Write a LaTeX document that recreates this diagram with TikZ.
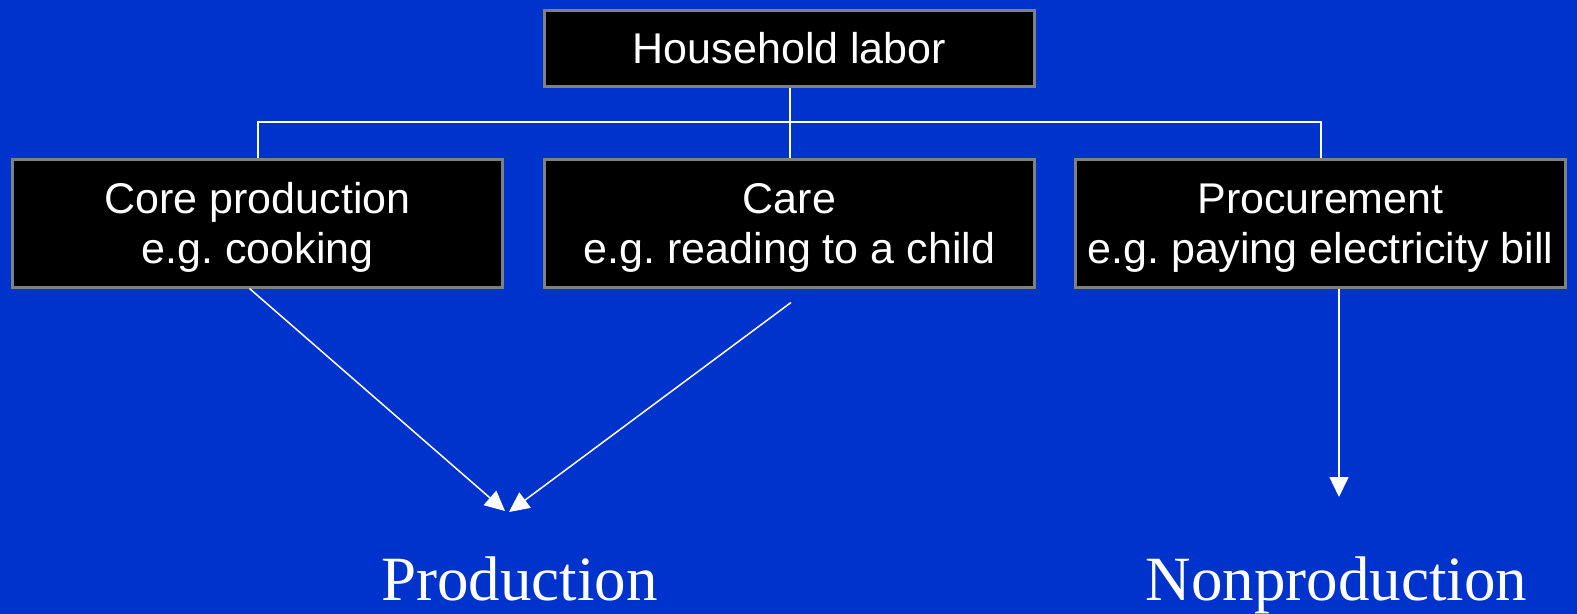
\documentclass[tikz,border=0pt]{standalone}
\usepackage{fontspec}
\setmainfont{Liberation Sans}
\newfontfamily\serifface{Liberation Serif}
\usetikzlibrary{arrows.meta}
\definecolor{slideblue}{HTML}{0033CC}
\definecolor{boxrim}{HTML}{808080}
\newcommand{\rowtop}{\rule{0pt}{40bp}}
\newcommand{\rowbottom}{\rule[-11bp]{0pt}{11bp}}
\tikzset{
  labourbox/.style={draw=boxrim,line width=3bp,fill=black,text=white,align=center,
    minimum width=490bp,font=\frenchspacing\fontsize{43bp}{50bp}\selectfont},
  branch/.style={draw=white,line width=2bp},
  flow/.style={draw=white,line width=1.5bp,-{Triangle[width=19bp,length=20bp]}},
  outcome/.style={text=white,anchor=base,font=\serifface\fontsize{63bp}{70bp}\selectfont}
}
\begin{document}
\begin{tikzpicture}[x=1bp,y=-1bp]
    \fill[slideblue] (0,0) rectangle (1577,614);
    \useasboundingbox (0,0) rectangle (1577,614);
    \node[labourbox,minimum height=76bp] (house) at (789.5,48.5) {Household labor};
    \node[labourbox,minimum height=127bp] (core) at (257.5,223.5) {\rowtop Core production\\e.g. cooking\rowbottom};
    \node[labourbox,minimum height=127bp] (care) at (789.5,223.5) {\rowtop Care\\e.g. reading to a child\rowbottom};
    \node[labourbox,minimum height=127bp] (proc) at (1320.5,223.5) {\rowtop Procurement\\e.g. paying electricity bill\rowbottom};
    \node[outcome] (prod) at (519.5,600) {Production};
    \node[outcome] (nonprod) at (1336.5,600) {Nonproduction};
    % tree lines
    \draw[branch] (house.south) -- (care.north);
    \draw[branch] (core.north) -- ++(0,-36) -| (proc.north);
    % arrows to the two kinds of labor
    \coordinate (tipa) at (505,511);
    \coordinate (tipb) at (509,512);
    \coordinate (tipc) at (1339,497);
    \draw[flow] ([xshift=-8bp]core.south) -- (tipa);
    \draw[flow] ([xshift=1.5bp,yshift=-14bp]care.south) -- (tipb);
    \draw[flow] (proc.south -| tipc) -- (tipc);
  \end{tikzpicture}
\end{document}
